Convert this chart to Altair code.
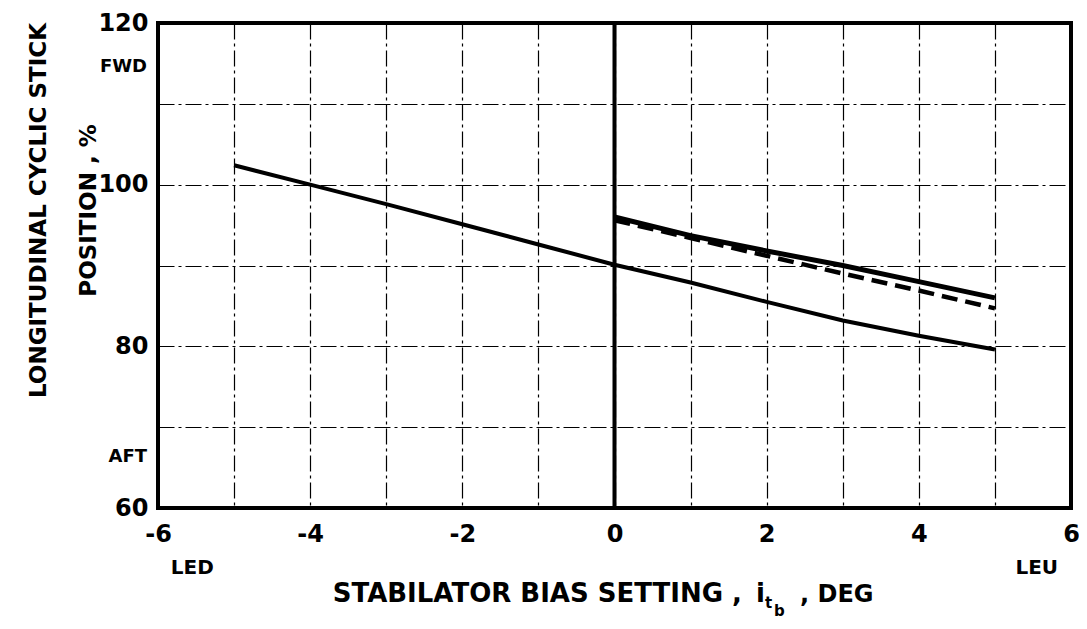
import altair as alt
import pandas as pd

# ---- data ----
x_lower = [-5, -4, -3, -2, -1, 0, 1, 2, 3, 4, 5]
lower_solid = [102.4, 100.0, 97.6, 95.1, 92.6, 90.1, 87.9, 85.5, 83.2, 81.3, 79.6]
x_upper = [0, 1, 2, 3, 4, 5]
upper_solid = [96.0, 93.7, 91.8, 90.0, 88.0, 86.0]
upper_dashed = [95.6, 93.4, 91.2, 89.0, 86.9, 84.7]

x_ticks = list(range(-6, 7))
y_ticks = list(range(60, 121, 10))
y_words = ["FWD", "AFT"]
y_word_pos = [114.5, 66.3]
end_words = ["LED", "LEU"]
end_word_pos = [-5.55, 5.55]

FONT = "DejaVu Sans"

df_lower = pd.DataFrame({"x": x_lower, "y": lower_solid})
df_up = pd.DataFrame({"x": x_upper, "y": upper_solid})
df_dash = pd.DataFrame({"x": x_upper, "y": upper_dashed})
df_zero = pd.DataFrame({"x": [0]})
df_words = pd.DataFrame({"t": y_words, "y": y_word_pos})
df_ends = pd.DataFrame({"t": end_words, "x": end_word_pos})

xscale = alt.Scale(domain=[-6, 6], nice=False, zero=False)
yscale = alt.Scale(domain=[60, 120], nice=False, zero=False)

xaxis = alt.Axis(
    values=x_ticks,
    labelExpr="datum.value % 2 == 0 ? '' + datum.value : ''",
    grid=True, ticks=False, domain=False, title=None,
    labelFont=FONT, labelFontWeight="bold", labelFontSize=24, labelColor="black",
    labelPadding=14, labelFlush=False, labelOverlap=False,
    gridColor="black", gridWidth=1.2, gridDash=[16, 4, 3, 4], gridOpacity=1,
)
yaxis = alt.Axis(
    values=y_ticks,
    labelExpr="datum.value % 20 == 0 ? '' + datum.value : ''",
    grid=True, ticks=False, domain=False,
    title=["LONGITUDINAL CYCLIC STICK", "POSITION , %"],
    titleFont=FONT, titleFontWeight="bold", titleFontSize=23, titleColor="black",
    titleAngle=270, titleAlign="center", titleBaseline="middle",
    titleLineHeight=50, titleX=-120, titleY=187,
    labelFont=FONT, labelFontWeight="bold", labelFontSize=24, labelColor="black",
    labelPadding=10, labelFlush=False, labelOverlap=False,
    gridColor="black", gridWidth=1.2, gridDash=[16, 4, 3, 4], gridOpacity=1,
)

base_lower = alt.Chart(df_lower).mark_line(color="black", strokeWidth=4).encode(
    x=alt.X("x:Q", scale=xscale, axis=xaxis),
    y=alt.Y("y:Q", scale=yscale, axis=yaxis),
)
up_line = alt.Chart(df_up).mark_line(color="black", strokeWidth=5).encode(
    x=alt.X("x:Q", scale=xscale), y=alt.Y("y:Q", scale=yscale)
)
dash_line = alt.Chart(df_dash).mark_line(color="black", strokeWidth=4.5, strokeDash=[16, 8]).encode(
    x=alt.X("x:Q", scale=xscale), y=alt.Y("y:Q", scale=yscale)
)
zero_rule = alt.Chart(df_zero).mark_rule(color="black", strokeWidth=4).encode(
    x=alt.X("x:Q", scale=xscale)
)
words = alt.Chart(df_words).mark_text(
    font=FONT, fontWeight="bold", fontSize=18, align="right", baseline="middle", color="black"
).encode(x=alt.value(-11), y=alt.Y("y:Q", scale=yscale), text="t:N")
ends = alt.Chart(df_ends).mark_text(
    font=FONT, fontWeight="bold", fontSize=20, align="center", baseline="middle", color="black"
).encode(x=alt.X("x:Q", scale=xscale), y=alt.value(545), text="t:N")

def txt(s, x, y, size, align="left"):
    return alt.Chart(pd.DataFrame({"t": [s]})).mark_text(
        font=FONT, fontWeight="bold", fontSize=size, align=align,
        baseline="alphabetic", color="black"
    ).encode(x=alt.value(x), y=alt.value(y), text="t:N")

title_main = txt("STABILATOR BIAS SETTING ,", 584, 579, 26, "right")
title_i = txt("i", 598, 579, 26)
title_t = txt("t", 607, 585, 15)
title_b = txt("b", 616, 593, 15)
title_end = txt(", DEG", 642, 579, 24)

chart = alt.layer(
    base_lower, up_line, dash_line, zero_rule, words, ends,
    title_main, title_i, title_t, title_b, title_end,
).properties(
    width=913, height=485,
    autosize=alt.AutoSizeParams(type="none"),
    padding={"left": 150, "top": 15, "right": 8, "bottom": 118},
).configure(
    background="white",
    view=alt.ViewConfig(stroke="black", strokeWidth=4),
)

chart.save("out.html", embed_options={"renderer": "svg", "actions": False})
